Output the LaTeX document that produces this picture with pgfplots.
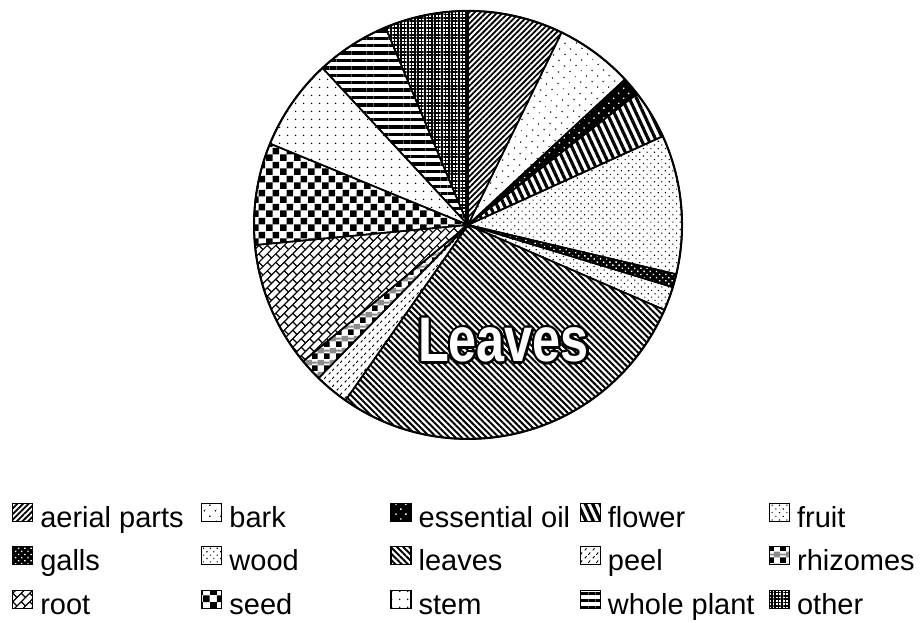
\documentclass[border=0pt]{standalone}
\usepackage{pgfplots}
\pgfplotsset{compat=1.18}
\usepackage{pgfplotstable}
\usetikzlibrary{patterns,patterns.meta}
\usepackage{fontspec}
\setmainfont{Liberation Sans}
\newfontfamily\leavesfont{Liberation Sans}[FakeStretch=0.8]
\usepackage{contour}
\contourlength{1.1pt}

% share of each plant part (%), clockwise from 12 o'clock
\pgfplotstableread[col sep=comma]{
part,share
aerial parts,7.2
bark,5.9
essential oil,1.4
flower,3.7
fruit,10.5
galls,1.0
wood,1.8
leaves,28.2
peel,2.6
rhizomes,1.7
root,9.5
seed,7.7
stem,6.9
whole plant,5.6
other,6.3
}\piedata

\tikzdeclarepattern{
  name=DiagBrick, type=uncolored,
  bottom left={(-0.5pt,-0.5pt)}, top right={(6.5pt,6.5pt)},
  tile size={(6pt,6pt)},
  tile transformation={rotate=45},
  code={\draw[line width=0.6pt] (0pt,0pt) -- (6pt,0pt) (0pt,3pt) -- (6pt,3pt)
      (0pt,0pt) -- (0pt,3pt) (3pt,3pt) -- (3pt,6pt);}
}
\tikzdeclarepattern{
  name=SeedCheck, type=uncolored,
  bottom left={(0pt,0pt)}, top right={(7pt,7pt)},
  tile size={(7pt,7pt)},
  code={\fill (0pt,0pt) rectangle (3.5pt,3.5pt); \fill (3.5pt,3.5pt) rectangle (7pt,7pt);}
}
\tikzdeclarepattern{
  name=PeelDash, type=uncolored,
  bottom left={(0pt,0pt)}, top right={(4pt,4pt)},
  tile size={(4pt,4pt)},
  code={\draw[line width=0.5pt] (0.4pt,0.3pt) -- (1.4pt,1.5pt) (2.4pt,2.3pt) -- (3.4pt,3.5pt);}
}
\tikzdeclarepattern{
  name=RhizCheck, type=colored,
  bottom left={(0pt,0pt)}, top right={(6pt,6pt)},
  tile size={(6pt,6pt)},
  code={\fill[black] (0pt,0pt) rectangle (3pt,3pt);
        \fill[black!45] (3pt,3pt) rectangle (6pt,6pt);
        \fill[black!45] (0pt,4pt) rectangle (3pt,5pt);}
}

\tikzset{
  slice0/.style={pattern={Lines[angle=45,distance=2pt,line width=0.9pt]}},
  slice1/.style={pattern={Dots[angle=45,distance=4pt,radius=0.45pt]}},
  slice2/.style={preaction={fill=black},pattern={Dots[angle=45,distance=3.5pt,radius=0.5pt]},pattern color=white},
  slice3/.style={pattern={Lines[angle=-65,distance=3.3pt,line width=1.6pt]}},
  slice4/.style={pattern={Dots[angle=45,distance=2.6pt,radius=0.4pt]}},
  slice5/.style={preaction={fill=black},pattern={Dots[angle=45,distance=2.2pt,radius=0.5pt]},pattern color=white},
  slice6/.style={pattern={Dots[angle=45,distance=2.4pt,radius=0.4pt]}},
  slice7/.style={pattern={Lines[angle=-45,distance=2.2pt,line width=1pt]}},
  slice8/.style={pattern=PeelDash},
  slice9/.style={pattern=RhizCheck},
  slice10/.style={pattern=DiagBrick},
  slice11/.style={pattern=SeedCheck},
  slice12/.style={pattern={Dots[angle=0,distance=4pt,radius=0.45pt]}},
  slice13/.style={pattern={Lines[angle=0,distance=3.7pt,line width=1.7pt]}},
  slice14/.style={pattern={Hatch[angle=0,distance=1.7pt,line width=0.8pt]}},
}

\pgfplotstablegetrowsof{\piedata}
\pgfmathtruncatemacro{\lastrow}{\pgfplotsretval-1}
\def\pietotal{0}
\pgfplotsforeachungrouped \r in {0,...,\lastrow}{%
  \pgfplotstablegetelem{\r}{share}\of\piedata
  \pgfmathsetmacro{\pietotal}{\pietotal+\pgfplotsretval}%
}

\begin{document}
\begin{tikzpicture}
\begin{axis}[
    hide axis,
    disabledatascaling,
    clip=false,
    x=107pt, y=107pt,
    xmin=-2.187, xmax=2.112,
    ymin=-1.860, ymax=1.051,
    legend columns=5,
    legend cell align=left,
    legend image code/.code={\draw[#1,line width=0.6pt] (0pt,-1.3pt) rectangle (10pt,7.7pt);},
    legend style={draw=none, fill=none,
        at={(axis description cs:0.0127,0.194)}, anchor=north west,
        font=\fontsize{14.5}{16}\selectfont,
        row sep=7pt, column sep=0pt, inner sep=0pt,
        nodes={inner sep=0pt, text height=11pt, text depth=2.5pt}},
]
\def\angA{90}
\pgfplotsforeachungrouped \r in {0,...,\lastrow}{%
  \pgfplotstablegetelem{\r}{share}\of\piedata
  \pgfmathsetmacro{\angB}{\angA-360*\pgfplotsretval/\pietotal}%
  \edef\slicecmd{\noexpand\draw[slice\r,draw=black,line width=0.8pt]
    (axis cs:0,0) -- (axis cs:{cos(\angA)},{sin(\angA)})
    arc[start angle=\angA,end angle=\angB,radius=107pt] -- cycle;}%
  \slicecmd
  \let\angA\angB
}
\draw[line width=1pt] (axis cs:0,0) circle[radius=107pt];
\node[anchor=base, text=white, font=\leavesfont\bfseries\fontsize{31.5}{32}\selectfont]
  at (axis cs:0.166,-0.640) {\contour{black}{Leaves}};

\addlegendimage{slice0}\addlegendentry{\hspace{3.5pt}\makebox[80.5pt][l]{aerial parts}}
\addlegendimage{slice1}\addlegendentry{\hspace{3.5pt}\makebox[80.5pt][l]{bark}}
\addlegendimage{slice2}\addlegendentry{\hspace{3.5pt}\makebox[80.5pt][l]{essential oil}}
\addlegendimage{slice3}\addlegendentry{\hspace{3.5pt}\makebox[80.5pt][l]{flower}}
\addlegendimage{slice4}\addlegendentry{\hspace{3.5pt}fruit}
\addlegendimage{slice5}\addlegendentry{\hspace{3.5pt}\makebox[80.5pt][l]{galls}}
\addlegendimage{slice6}\addlegendentry{\hspace{3.5pt}\makebox[80.5pt][l]{wood}}
\addlegendimage{slice7}\addlegendentry{\hspace{3.5pt}\makebox[80.5pt][l]{leaves}}
\addlegendimage{slice8}\addlegendentry{\hspace{3.5pt}\makebox[80.5pt][l]{peel}}
\addlegendimage{slice9}\addlegendentry{\hspace{3.5pt}rhizomes}
\addlegendimage{slice10}\addlegendentry{\hspace{3.5pt}\makebox[80.5pt][l]{root}}
\addlegendimage{slice11}\addlegendentry{\hspace{3.5pt}\makebox[80.5pt][l]{seed}}
\addlegendimage{slice12}\addlegendentry{\hspace{3.5pt}\makebox[80.5pt][l]{stem}}
\addlegendimage{slice13}\addlegendentry{\hspace{3.5pt}\makebox[80.5pt][l]{whole plant}}
\addlegendimage{slice14}\addlegendentry{\hspace{3.5pt}other}
\end{axis}
\pgfresetboundingbox
\path (current axis.south west) rectangle (current axis.north east);
\end{tikzpicture}
\end{document}
